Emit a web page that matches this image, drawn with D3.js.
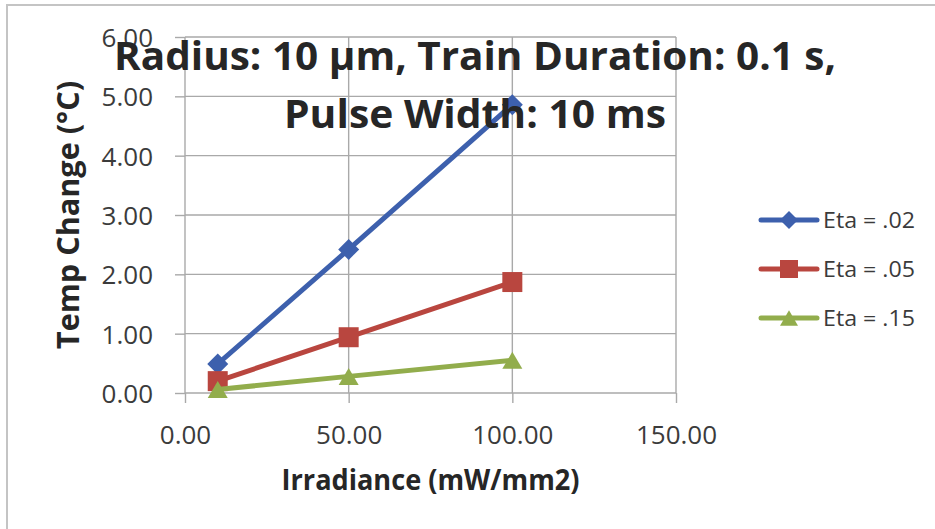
<!DOCTYPE html>
<html>
<head>
<meta charset="utf-8">
<script src="https://cdn.jsdelivr.net/npm/d3@7"></script>
<style>
  html, body { margin: 0; padding: 0; background: #fff; }
  svg { display: block; font-family: "Open Sans", "DejaVu Sans", sans-serif; }
</style>
</head>
<body>
<svg id="chart" width="935" height="529"></svg>
<script>
// Irradiance values (mW/mm2) at which temperature change was computed
const irradiance = [10, 50, 100];
// Temperature change (°C) for each absorption coefficient
const eta02 = [0.49, 2.42, 4.86];
const eta05 = [0.20, 0.94, 1.87];
const eta15 = [0.06, 0.28, 0.55];
const seriesNames = ["Eta = .02", "Eta = .05", "Eta = .15"];
const xTicks = [0, 50, 100, 150];
const yTicks = [0, 1, 2, 3, 4, 5, 6];
const titleLines = ["Radius: 10 µm, Train Duration: 0.1 s,", "Pulse Width: 10 ms"];

const series = [
  { name: seriesNames[0], values: eta02, color: "#3d60ad", marker: "diamond" },
  { name: seriesNames[1], values: eta05, color: "#b9463f", marker: "square" },
  { name: seriesNames[2], values: eta15, color: "#92ad4c", marker: "triangle" }
];

const svg = d3.select("#chart");
const plot = { left: 185, right: 676, top: 37, bottom: 393 };
const x = d3.scaleLinear().domain([0, 150]).range([plot.left, plot.right]);
const y = d3.scaleLinear().domain([0, 6]).range([plot.bottom, plot.top]);
const gridColor = "#a9a9a9";
const textColor = "#3b3b3b";

// outer chart frame
svg.append("rect")
  .attr("x", 7).attr("y", 5).attr("width", 960).attr("height", 560)
  .attr("fill", "none").attr("stroke", "#c4c4c4").attr("stroke-width", 2);

// gridlines
svg.append("g").selectAll("line").data(yTicks).join("line")
  .attr("x1", plot.left).attr("x2", plot.right)
  .attr("y1", d => y(d)).attr("y2", d => y(d))
  .attr("stroke", gridColor).attr("stroke-width", 1.4);
svg.append("g").selectAll("line").data(xTicks).join("line")
  .attr("x1", d => x(d)).attr("x2", d => x(d))
  .attr("y1", plot.top).attr("y2", plot.bottom)
  .attr("stroke", gridColor).attr("stroke-width", 1.4);

// axes
const fmt = d3.format(".2f");
const xAxis = svg.append("g").attr("transform", `translate(0,${plot.bottom})`)
  .call(d3.axisBottom(x).tickValues(xTicks).tickFormat(fmt).tickSize(10).tickPadding(23));
const yAxis = svg.append("g").attr("transform", `translate(${plot.left},0)`)
  .call(d3.axisLeft(y).tickValues(yTicks).tickFormat(fmt).tickSize(10).tickPadding(22));
[xAxis, yAxis].forEach(a => {
  a.select(".domain").remove();
  a.selectAll(".tick line").attr("stroke", gridColor).attr("stroke-width", 1.4);
  a.selectAll(".tick text")
    .attr("fill", textColor)
    .style("font-family", '"Open Sans", sans-serif')
    .style("font-size", "26px");
});
yAxis.selectAll(".tick text").attr("dy", "0.36em");

// marker shapes
function markerPath(type, s) {
  if (type === "diamond") return `M0,${-s}L${s},0L0,${s}L${-s},0Z`;
  if (type === "square") return `M${-s},${-s}H${s}V${s}H${-s}Z`;
  const h = s * 0.85;
  return `M0,${-h}L${s},${h}L${-s},${h}Z`;
}

// series lines and markers
const line = d3.line().x((d, i) => x(irradiance[i])).y(d => y(d));
series.forEach(s => {
  const g = svg.append("g");
  g.append("path").attr("d", line(s.values))
    .attr("fill", "none").attr("stroke", s.color).attr("stroke-width", 5)
    .attr("stroke-linejoin", "round");
  g.selectAll("path.m").data(s.values).join("path").attr("class", "m")
    .attr("transform", (d, i) => `translate(${x(irradiance[i])},${y(d)})`)
    .attr("d", markerPath(s.marker, s.marker === "diamond" ? 10.5 : 10))
    .attr("fill", s.color);
});

// chart title drawn over the plot
const titleG = svg.append("g").attr("fill", "#262626")
  .style("font-weight", "bold").style("font-size", "39px");
const titleBase = [70, 128];
const titleWidth = [722, 382];
titleLines.forEach((t, i) => {
  titleG.append("text").attr("x", 475).attr("y", titleBase[i])
    .attr("text-anchor", "middle")
    .attr("textLength", titleWidth[i]).attr("lengthAdjust", "spacingAndGlyphs")
    .text(t);
});

// axis titles
svg.append("text").attr("x", (plot.left + plot.right) / 2).attr("y", 490)
  .attr("text-anchor", "middle").attr("fill", "#262626")
  .style("font-weight", "bold").style("font-size", "28px")
  .attr("textLength", 298).attr("lengthAdjust", "spacingAndGlyphs")
  .text("Irradiance (mW/mm2)");
svg.append("text")
  .attr("transform", `translate(79,${(plot.top + plot.bottom) / 2}) rotate(-90)`)
  .attr("text-anchor", "middle").attr("fill", "#262626")
  .style("font-weight", "bold").style("font-size", "30px")
  .attr("textLength", 268).attr("lengthAdjust", "spacingAndGlyphs")
  .text("Temp Change (°C)");

// legend
const legend = svg.append("g");
series.forEach((s, i) => {
  const ly = 220 + i * 49;
  legend.append("line").attr("x1", 761).attr("x2", 817).attr("y1", ly).attr("y2", ly)
    .attr("stroke", s.color).attr("stroke-width", 5).attr("stroke-linecap", "round");
  legend.append("path").attr("transform", `translate(789,${ly})`)
    .attr("d", markerPath(s.marker, 9)).attr("fill", s.color);
  legend.append("text").attr("x", 823).attr("y", ly).attr("dy", "0.36em")
    .attr("fill", textColor).style("font-size", "21px")
    .attr("textLength", 92).attr("lengthAdjust", "spacingAndGlyphs")
    .text(s.name);
});
</script>
</body>
</html>
